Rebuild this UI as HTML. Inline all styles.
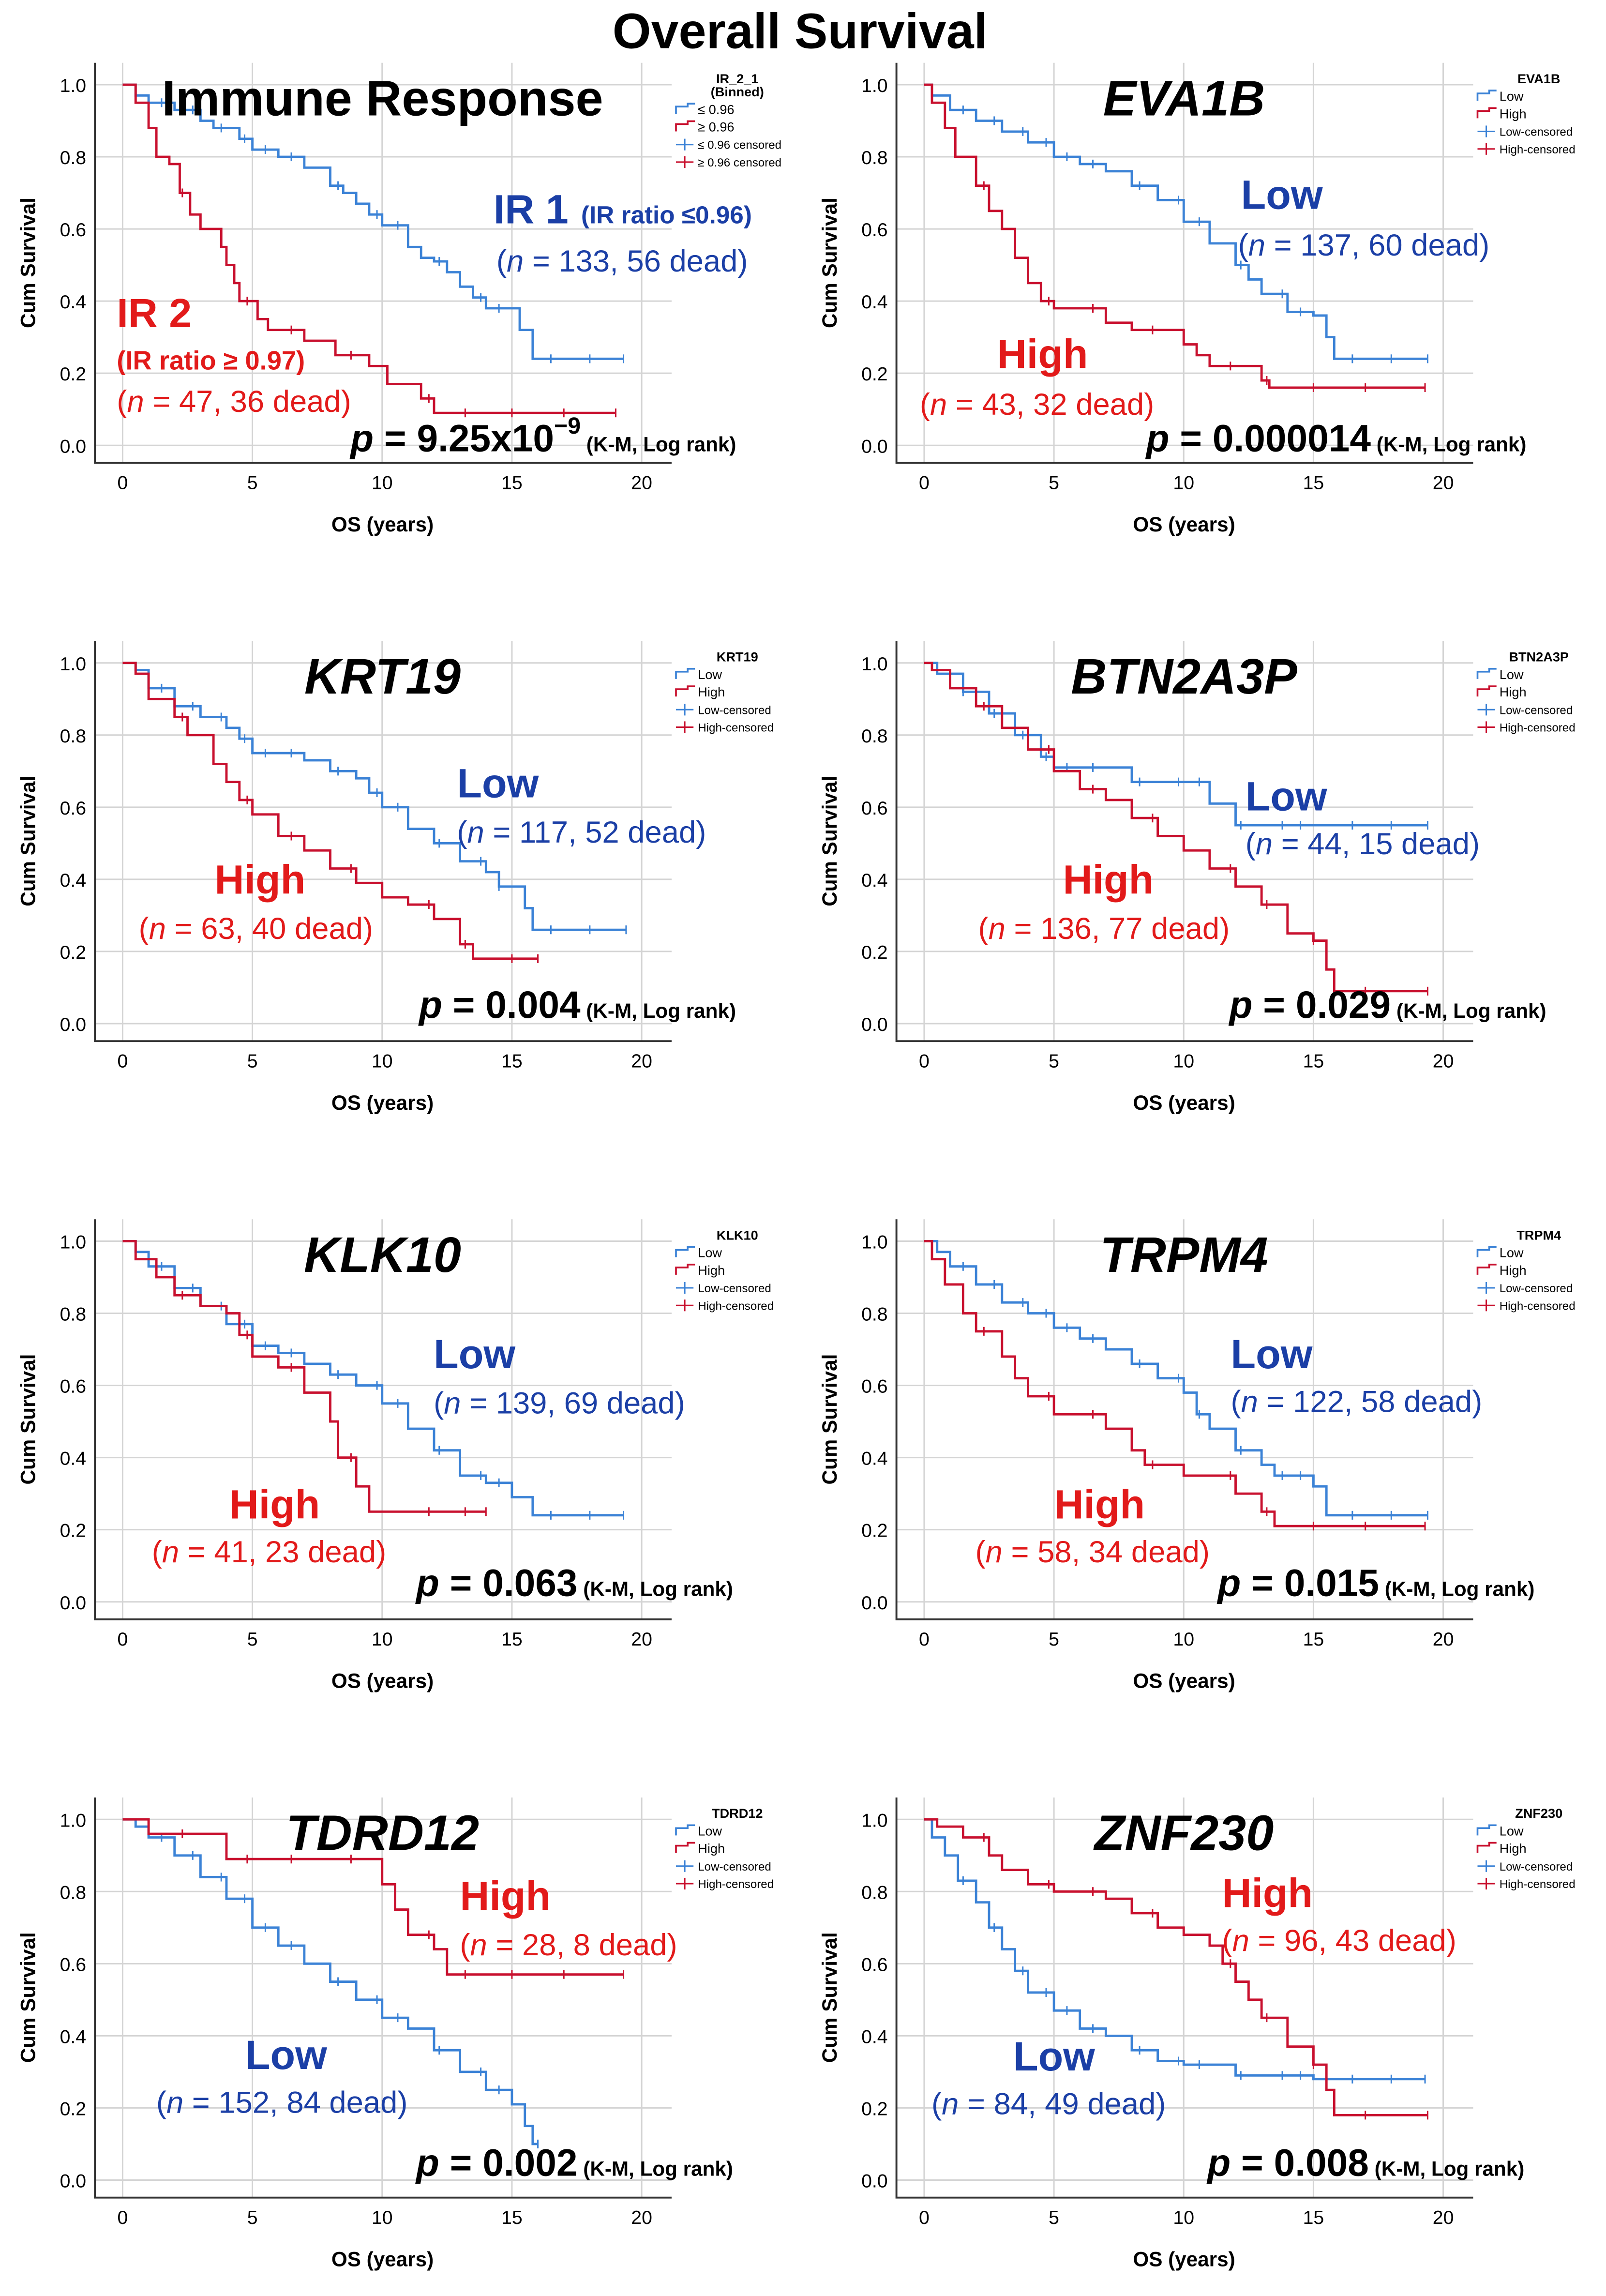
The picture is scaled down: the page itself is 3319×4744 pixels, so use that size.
<!DOCTYPE html>
<html><head><meta charset="utf-8"><style>
html,body{margin:0;padding:0;background:#fff}
svg{display:block}
text{font-family:"Liberation Sans",Arial,sans-serif}
</style></head><body>
<svg id="fig" xmlns="http://www.w3.org/2000/svg" width="3319" height="4744" viewBox="0 0 1100 1572.4" preserveAspectRatio="none">
<rect width="1100" height="1572.4" fill="#fff"/>
<text x="548" y="33" text-anchor="middle" font-size="34" font-weight="bold">Overall Survival</text>
</svg>
<script>
// ---- data: Kaplan-Meier step curves (time in years, cumulative survival) ----
const irLowT=[0,0.5,1,2,3,3.5,4.5,5,6,7,8,8.5,9,9.5,10,11,11.5,12,12.5,13,13.5,14,15.3,15.8,19.3];
const irLowS=[1,0.97,0.95,0.93,0.90,0.88,0.85,0.82,0.80,0.77,0.72,0.70,0.67,0.64,0.61,0.55,0.52,0.51,0.48,0.44,0.41,0.38,0.32,0.24,0.24];
const irHighT=[0,0.5,1,1.3,1.8,2.2,2.6,3,3.8,4,4.3,4.5,5.2,5.6,7,8.2,9.5,10.2,11.5,12,19];
const irHighS=[1,0.95,0.88,0.80,0.78,0.70,0.64,0.60,0.55,0.50,0.45,0.40,0.35,0.32,0.29,0.25,0.22,0.17,0.13,0.09,0.09];
const evaLowT=[0,0.3,1,2,3,4,5,6,7,8,9,10,11,12,12.5,13,14,15,15.5,15.8,19.4];
const evaLowS=[1,0.97,0.93,0.90,0.87,0.84,0.80,0.78,0.76,0.72,0.68,0.62,0.56,0.50,0.46,0.42,0.37,0.36,0.30,0.24,0.24];
const evaHighT=[0,0.3,0.8,1.2,2,2.5,3,3.5,4,4.5,5,7,8,10,10.5,11,13,13.3,19.3];
const evaHighS=[1,0.95,0.88,0.80,0.72,0.65,0.60,0.52,0.45,0.40,0.38,0.34,0.32,0.28,0.25,0.22,0.18,0.16,0.16];
const krtLowT=[0,0.5,1,2,3,4,4.5,5,7,8,9,9.5,10,11,12,13,14,14.5,15.5,15.8,19.4];
const krtLowS=[1,0.98,0.93,0.88,0.85,0.82,0.79,0.75,0.73,0.70,0.68,0.64,0.60,0.54,0.50,0.45,0.42,0.38,0.32,0.26,0.26];
const krtHighT=[0,0.5,1,2,2.5,3.5,4,4.5,5,6,7,8,9,10,11,12,13,13.5,16];
const krtHighS=[1,0.97,0.90,0.85,0.80,0.72,0.67,0.62,0.58,0.52,0.48,0.43,0.39,0.35,0.33,0.29,0.22,0.18,0.18];
const btnLowT=[0,0.5,1.5,2.5,3.5,4.5,5,8,11,12,19.4];
const btnLowS=[1,0.97,0.92,0.86,0.80,0.74,0.71,0.67,0.61,0.55,0.55];
const btnHighT=[0,0.3,1,2,3,4,5,6,7,8,9,10,11,12,13,14,15,15.5,15.8,19.4];
const btnHighS=[1,0.98,0.93,0.88,0.82,0.76,0.70,0.65,0.62,0.57,0.52,0.48,0.43,0.38,0.33,0.25,0.23,0.15,0.09,0.09];
const klkLowT=[0,0.5,1,2,3,4,5,6,7,8,9,10,11,12,13,14,15,15.8,19.3];
const klkLowS=[1,0.97,0.93,0.87,0.82,0.77,0.71,0.69,0.66,0.63,0.60,0.55,0.48,0.42,0.35,0.33,0.29,0.24,0.24];
const klkHighT=[0,0.5,1.3,2,3,4,4.5,5,6,7,8,8.3,9,9.5,14];
const klkHighS=[1,0.95,0.90,0.85,0.82,0.80,0.74,0.68,0.65,0.58,0.50,0.40,0.32,0.25,0.25];
const trpLowT=[0,0.5,1,2,3,4,5,6,7,8,9,10,10.5,11,12,13,13.5,15,15.5,19.4];
const trpLowS=[1,0.97,0.93,0.88,0.83,0.80,0.76,0.73,0.70,0.66,0.62,0.58,0.52,0.48,0.42,0.38,0.35,0.32,0.24,0.24];
const trpHighT=[0,0.3,0.8,1.5,2,3,3.5,4,5,7,8,8.5,10,12,13,13.5,19.3];
const trpHighS=[1,0.95,0.88,0.80,0.75,0.68,0.62,0.57,0.52,0.48,0.42,0.38,0.35,0.30,0.25,0.21,0.21];
const tdrLowT=[0,0.5,1,2,3,4,5,6,7,8,9,10,11,12,13,14,15,15.5,15.8,16];
const tdrLowS=[1,0.98,0.95,0.90,0.84,0.78,0.70,0.65,0.60,0.55,0.50,0.45,0.42,0.36,0.30,0.25,0.21,0.15,0.10,0.10];
const tdrHighT=[0,1,4,10,10.5,11,12,12.5,19.3];
const tdrHighS=[1,0.96,0.89,0.82,0.75,0.68,0.64,0.57,0.57];
const znfLowT=[0,0.3,0.8,1.3,2,2.5,3,3.5,4,5,6,7,8,9,10,12,15,19.3];
const znfLowS=[1,0.95,0.90,0.83,0.77,0.70,0.64,0.58,0.52,0.47,0.42,0.40,0.36,0.33,0.32,0.29,0.28,0.28];
const znfHighT=[0,0.5,1.5,2.5,3,4,5,7,8,9,10,11,11.5,12,12.5,13,14,15,15.5,15.8,19.4];
const znfHighS=[1,0.98,0.95,0.90,0.86,0.82,0.80,0.78,0.74,0.70,0.68,0.65,0.60,0.55,0.50,0.45,0.37,0.32,0.25,0.18,0.18];
// censor times
const censorLow=[1.5,2.7,3.8,4.7,5.5,6.5,8.3,9.8,10.6,12.2,13.8,14.5,16.5,18];
const censorHigh=[2.3,4.8,6.5,8.8,11.8,13.2,15,17];
const xTicks=[0,5,10,15,20];
const yTicks=[0,0.2,0.4,0.6,0.8,1.0];
const yTickLabels=["0.0","0.2","0.4","0.6","0.8","1.0"];

const NS="http://www.w3.org/2000/svg";
const svg=document.getElementById('fig');
function mk(tag,attrs,parent){const e=document.createElementNS(NS,tag);for(const k in attrs)e.setAttribute(k,attrs[k]);(parent||svg).appendChild(e);return e;}
const BLUE="#3b82d6",RED="#c8102e",TBLUE="#1b3fa6",TRED="#e21a1a";

const panels=[
 {col:0,row:0,name:"ir",title:"Immune Response",italic:false,legTitle:["IR_2_1","(Binned)"],legLab:["≤ 0.96","≥ 0.96","≤ 0.96 censored","≥ 0.96 censored"],
  low:[irLowT,irLowS],high:[irHighT,irHighS],p:"9.25x10",sup:"−9",pX:240},
 {col:1,row:0,name:"eva1b",title:"EVA1B",italic:true,legTitle:["EVA1B"],low:[evaLowT,evaLowS],high:[evaHighT,evaHighS],p:"0.000014",pX:785},
 {col:0,row:1,name:"krt19",title:"KRT19",italic:true,legTitle:["KRT19"],low:[krtLowT,krtLowS],high:[krtHighT,krtHighS],p:"0.004",pX:287},
 {col:1,row:1,name:"btn2a3p",title:"BTN2A3P",italic:true,legTitle:["BTN2A3P"],low:[btnLowT,btnLowS],high:[btnHighT,btnHighS],p:"0.029",pX:842},
 {col:0,row:2,name:"klk10",title:"KLK10",italic:true,legTitle:["KLK10"],low:[klkLowT,klkLowS],high:[klkHighT,klkHighS],p:"0.063",pX:285},
 {col:1,row:2,name:"trpm4",title:"TRPM4",italic:true,legTitle:["TRPM4"],low:[trpLowT,trpLowS],high:[trpHighT,trpHighS],p:"0.015",pX:834},
 {col:0,row:3,name:"tdrd12",title:"TDRD12",italic:true,legTitle:["TDRD12"],low:[tdrLowT,tdrLowS],high:[tdrHighT,tdrHighS],p:"0.002",pX:285},
 {col:1,row:3,name:"znf230",title:"ZNF230",italic:true,legTitle:["ZNF230"],low:[znfLowT,znfLowS],high:[znfHighT,znfHighS],p:"0.008",pX:827}
];
// annotation text: [text, x, y, color, size, weight]
const notes={
 ir:[["IR 1",338,153,TBLUE,28,"bold"],["(IR ratio ≤0.96)",398,153,TBLUE,17,"bold"],["(n = 133, 56 dead)",340,186,TBLUE,21,"normal"],
     ["IR 2",80,224,TRED,28,"bold"],["(IR ratio ≥ 0.97)",80,253,TRED,18,"bold"],["(n = 47, 36 dead)",80,282,TRED,21,"normal"]],
 eva1b:[["Low",850,143,TBLUE,28,"bold"],["(n = 137, 60 dead)",848,175,TBLUE,21,"normal"],["High",683,252,TRED,28,"bold"],["(n = 43, 32 dead)",630,284,TRED,21,"normal"]],
 krt19:[["Low",313,546,TBLUE,28,"bold"],["(n = 117, 52 dead)",313,577,TBLUE,21,"normal"],["High",147,612,TRED,28,"bold"],["(n = 63, 40 dead)",95,643,TRED,21,"normal"]],
 btn2a3p:[["Low",853,555,TBLUE,28,"bold"],["(n = 44, 15 dead)",853,585,TBLUE,21,"normal"],["High",728,612,TRED,28,"bold"],["(n = 136, 77 dead)",670,643,TRED,21,"normal"]],
 klk10:[["Low",297,937,TBLUE,28,"bold"],["(n = 139, 69 dead)",297,968,TBLUE,21,"normal"],["High",157,1040,TRED,28,"bold"],["(n = 41, 23 dead)",104,1070,TRED,21,"normal"]],
 trpm4:[["Low",843,937,TBLUE,28,"bold"],["(n = 122, 58 dead)",843,967,TBLUE,21,"normal"],["High",722,1040,TRED,28,"bold"],["(n = 58, 34 dead)",668,1070,TRED,21,"normal"]],
 tdrd12:[["High",315,1308,TRED,28,"bold"],["(n = 28, 8 dead)",315,1339,TRED,21,"normal"],["Low",168,1417,TBLUE,28,"bold"],["(n = 152, 84 dead)",107,1447,TBLUE,21,"normal"]],
 znf230:[["High",837,1306,TRED,28,"bold"],["(n = 96, 43 dead)",837,1336,TRED,21,"normal"],["Low",694,1418,TBLUE,28,"bold"],["(n = 84, 49 dead)",638,1448,TBLUE,21,"normal"]]
};
const pY=[309,697,1093,1490];

function stepS(T,S,t){let s=S[0];for(let i=0;i<T.length;i++){if(T[i]<=t)s=S[i];}return s;}

panels.forEach(P=>{
 const ox=P.col*549, oy=P.row*396;
 const x0=84+ox, xs=(439.5-84)/20, y0=305+oy, ys=(305-58);
 const X=t=>x0+t*xs, Y=s=>y0-s*ys;
 const g=mk('g',{});
 
 
 // grid
 xTicks.forEach(t=>{const l=mk('line',{x1:X(t),x2:X(t),y1:43+oy,y2:317+oy,stroke:'#d4d4d4','stroke-width':1},g);
  
  const tx=mk('text',{x:X(t),y:335+oy,'text-anchor':'middle','font-size':13},g);tx.textContent=t;
  });
 yTicks.forEach((v,i)=>{const l=mk('line',{x1:65+ox,x2:460+ox,y1:Y(v),y2:Y(v),stroke:'#d4d4d4','stroke-width':1},g);
  
  const tx=mk('text',{x:50+ox,y:Y(v)+5,'text-anchor':'middle','font-size':13},g);tx.textContent=yTickLabels[i];
  });
 const ax=mk('path',{d:`M${65+ox},${43+oy} V${317+oy} H${460+ox}`,fill:'none',stroke:'#333','stroke-width':1.3},g);
 
 const xt=mk('text',{x:262+ox,y:364+oy,'text-anchor':'middle','font-size':14,'font-weight':'bold'},g);xt.textContent='OS (years)';
 
 const yt=mk('text',{x:0,y:0,'text-anchor':'middle','font-size':14,'font-weight':'bold',transform:`translate(${24+ox},${180+oy}) rotate(-90)`},g);yt.textContent='Cum Survival';
 
 // curves
 [[P.low,BLUE,'low',censorLow],[P.high,RED,'high',censorHigh]].forEach(([d,c,nm,cens])=>{
  const T=d[0],S=d[1];let p=`M${X(T[0])},${Y(S[0])}`;
  for(let i=1;i<T.length;i++){p+=` H${X(T[i])} V${Y(S[i])}`;}
  const path=mk('path',{d:p,fill:'none',stroke:c,'stroke-width':1.6},g);
  
  cens.forEach(t=>{if(t>=T[T.length-1])return;const s=stepS(T,S,t);
   const m=mk('line',{x1:X(t),x2:X(t),y1:Y(s)-3,y2:Y(s)+3,stroke:c,'stroke-width':1},g);
   });
  const e=mk('line',{x1:X(T[T.length-1]),x2:X(T[T.length-1]),y1:Y(S[S.length-1])-3,y2:Y(S[S.length-1])+3,stroke:c,'stroke-width':1},g);
  
 });
 // title
 const ti=mk('text',{x:(P.italic?262:262)+ox,y:79+oy,'text-anchor':'middle','font-size':34,'font-weight':'bold','font-style':P.italic?'italic':'normal'},g);
 ti.textContent=P.title;
 // legend
 const lg=mk('g',{},g);
 const lx=463+ox;let ly=57+oy;
 P.legTitle.forEach((s,i)=>{const t=mk('text',{x:lx+42,y:ly+i*9,'text-anchor':'middle','font-size':9,'font-weight':'bold'},lg);t.textContent=s;});
 ly+=P.legTitle.length*9+2;
 const labs=P.legLab||["Low","High","Low-censored","High-censored"];
 labs.forEach((s,i)=>{const c=i%2?RED:BLUE;const yy=ly+i*12;
  if(i<2)mk('path',{d:`M${lx},${yy+1} V${yy-4} H${lx+8} V${yy-6} H${lx+13}`,fill:'none',stroke:c,'stroke-width':1.2},lg);
  else{mk('line',{x1:lx,x2:lx+12,y1:yy-2,y2:yy-2,stroke:c,'stroke-width':1},lg);mk('line',{x1:lx+6,x2:lx+6,y1:yy-6,y2:yy+2,stroke:c,'stroke-width':1},lg);}
  const t=mk('text',{x:lx+15,y:yy+1,'font-size':i<2?9:8},lg);t.textContent=s;
  });
 // notes
 notes[P.name].forEach(n=>{const t=mk('text',{x:n[1],y:n[2],fill:n[3],'font-size':n[4],'font-weight':n[5]},g);
  const m=n[0].match(/^\((n)( = .*)$/);
  if(m){t.textContent='(';const a=mk('tspan',{'font-style':'italic'},t);a.textContent='n';const b=mk('tspan',{},t);b.textContent=m[2];}
  else t.textContent=n[0];
  });
 // p value
 const pt=mk('text',{x:P.pX,y:pY[P.row],'font-size':26,'font-weight':'bold'},g);
 
 const a=mk('tspan',{'font-style':'italic'},pt);a.textContent='p';
 const b=mk('tspan',{},pt);b.textContent=' = '+P.p;
 if(P.sup){const c=mk('tspan',{'font-size':16,dy:-12},pt);c.textContent=P.sup;const d=mk('tspan',{'font-size':14,dy:12},pt);d.textContent=' (K-M, Log rank)';}
 else{const d=mk('tspan',{'font-size':14},pt);d.textContent=' (K-M, Log rank)';}
});
</script>
</body></html>
